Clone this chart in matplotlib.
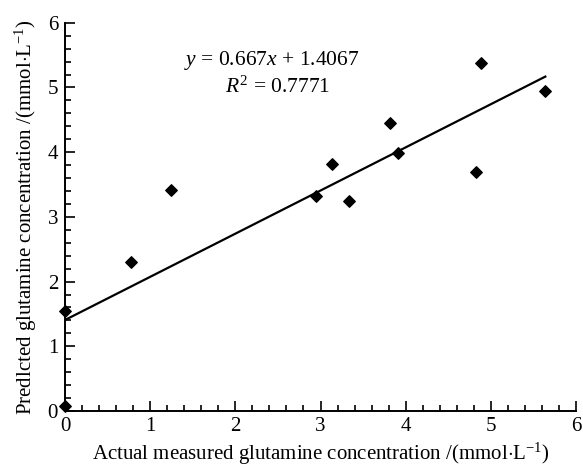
import matplotlib
matplotlib.use("Agg")
import matplotlib.pyplot as plt
from matplotlib.ticker import MultipleLocator
import numpy as np

plt.rcParams['font.family'] = ['Liberation Serif', 'DejaVu Serif']
plt.rcParams['mathtext.fontset'] = 'custom'
plt.rcParams['mathtext.rm'] = 'Liberation Serif'
plt.rcParams['mathtext.it'] = 'Liberation Serif:italic'
plt.rcParams['mathtext.bf'] = 'Liberation Serif:bold'

actual = [0.0, 0.0, 0.78, 1.245, 2.95, 3.14, 3.33, 3.815, 3.91, 4.83, 4.885, 5.64]
predicted = [0.07, 1.55, 2.30, 3.42, 3.32, 3.81, 3.25, 4.45, 3.98, 3.69, 5.38, 4.95]
slope = 0.667
intercept = 1.4067
r2 = 0.7771

fig = plt.figure(figsize=(5.83, 4.70), dpi=100)
ax = fig.add_axes([0.1115, 0.1255, 0.8765, 0.826])

ax.scatter(actual, predicted, marker='D', s=34, color='black', zorder=3, clip_on=False)
xs = np.array([0.0, max(actual)])
ax.plot(xs, slope * xs + intercept, color='black', lw=1.6, zorder=2)

ax.set_xlim(0, 6)
ax.set_ylim(0, 6)
ax.xaxis.set_major_locator(MultipleLocator(1))
ax.xaxis.set_minor_locator(MultipleLocator(0.2))
ax.yaxis.set_major_locator(MultipleLocator(1))
ax.yaxis.set_minor_locator(MultipleLocator(0.2))
ax.tick_params(which='both', direction='in', width=1.2, labelsize=15)
ax.tick_params(axis='x', which='major', pad=4)
ax.tick_params(axis='y', which='major', pad=5)
ax.tick_params(which='major', length=7)
ax.tick_params(which='minor', length=4)
for s in ['top', 'right']:
    ax.spines[s].set_visible(False)
for s in ['left', 'bottom']:
    ax.spines[s].set_linewidth(1.4)

ax.set_xlabel('Actual measured glutamine concentration /(mmol$\\cdot$L$^{-1}$)', fontsize=15, labelpad=4)
ax.set_ylabel('Predlcted glutamine concentration /(mmol$\\cdot$L$^{-1}$)', fontsize=15, labelpad=6)

ax.text(2.43, 5.42, '$\\it{y}$ = %.3f$\\it{x}$ + %.4f' % (slope, intercept), fontsize=15.5, ha='center', va='center')
ax.text(2.50, 5.01, '$\\it{R}^2$ = %.4f' % r2, fontsize=15.5, ha='center', va='center')

fig.savefig('out.png', dpi=100)
